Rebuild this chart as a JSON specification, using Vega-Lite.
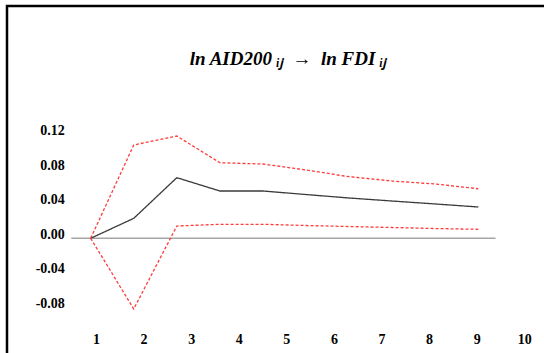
{
  "$schema": "https://vega.github.io/schema/vega-lite/v6.json",
  "width": 542,
  "height": 352,
  "autosize": "none",
  "padding": {"left": 7, "top": 6, "right": 0, "bottom": 0},
  "background": "white",
  "config": {
    "view": {"stroke": "black", "strokeWidth": 2.5},
    "font": "Liberation Serif"
  },
  "title": {
    "text": "ln AID200 ᵢⱼ\u2002→\u2002ln FDI ᵢⱼ",
    "font": "Liberation Serif",
    "fontStyle": "italic",
    "fontWeight": "bold",
    "fontSize": 19,
    "color": "black",
    "anchor": "middle",
    "frame": "group",
    "orient": "top",
    "baseline": "alphabetic",
    "offset": -78,
    "dx": 10
  },
  "datasets": {
    "irf": [
      {"period": 1, "series": "Response", "value": 0},
      {"period": 2, "series": "Response", "value": 0.0231},
      {"period": 3, "series": "Response", "value": 0.0701},
      {"period": 4, "series": "Response", "value": 0.0547},
      {"period": 5, "series": "Response", "value": 0.0547},
      {"period": 6, "series": "Response", "value": 0.0506},
      {"period": 7, "series": "Response", "value": 0.0466},
      {"period": 8, "series": "Response", "value": 0.0431},
      {"period": 9, "series": "Response", "value": 0.0397},
      {"period": 10, "series": "Response", "value": 0.0362},
      {"period": 1, "series": "Upper", "value": 0},
      {"period": 2, "series": "Upper", "value": 0.1079},
      {"period": 3, "series": "Upper", "value": 0.1183},
      {"period": 4, "series": "Upper", "value": 0.0874},
      {"period": 5, "series": "Upper", "value": 0.0859},
      {"period": 6, "series": "Upper", "value": 0.079},
      {"period": 7, "series": "Upper", "value": 0.0712},
      {"period": 8, "series": "Upper", "value": 0.0662},
      {"period": 9, "series": "Upper", "value": 0.0628},
      {"period": 10, "series": "Upper", "value": 0.0573},
      {"period": 1, "series": "Lower", "value": 0},
      {"period": 2, "series": "Lower", "value": -0.0817},
      {"period": 3, "series": "Lower", "value": 0.0142},
      {"period": 4, "series": "Lower", "value": 0.0162},
      {"period": 5, "series": "Lower", "value": 0.0162},
      {"period": 6, "series": "Lower", "value": 0.0148},
      {"period": 7, "series": "Lower", "value": 0.0136},
      {"period": 8, "series": "Lower", "value": 0.0125},
      {"period": 9, "series": "Lower", "value": 0.0113},
      {"period": 10, "series": "Lower", "value": 0.0104}
    ],
    "zero": [{"start": 0.55, "end": 10.4, "value": 0}]
  },
  "layer": [
    {
      "data": {"name": "zero"},
      "mark": {"type": "rule", "color": "#a6a6a6", "strokeWidth": 1.5},
      "encoding": {
        "x": {"field": "start", "type": "quantitative", "scale": {"domain": [-0.943, 11.641], "nice": false, "zero": false}, "axis": null},
        "x2": {"field": "end"},
        "y": {"field": "value", "type": "quantitative", "scale": {"domain": [-0.1384, 0.2686], "nice": false, "zero": false},
          "axis": {
            "values": [-0.08, -0.04, 0, 0.04, 0.08, 0.12],
            "labelExpr": "replace(format(datum.value, '.2f'), '−', '-')",
            "domain": false, "ticks": false, "grid": false,
            "offset": -57.3, "labelPadding": 0, "labelOffset": -4,
            "labelFont": "Liberation Serif", "labelFontWeight": "bold", "labelFontSize": 14, "labelColor": "black",
            "title": null
          }
        }
      }
    },
    {
      "data": {"name": "irf"},
      "mark": {"type": "line", "strokeWidth": 1.3},
      "encoding": {
        "x": {"field": "period", "type": "quantitative", "scale": {"domain": [-0.943, 11.641], "nice": false, "zero": false}, "axis": null},
        "y": {"field": "value", "type": "quantitative"},
        "color": {"field": "series", "type": "nominal", "scale": {"domain": ["Response", "Upper", "Lower"], "range": ["#3a3a3a", "#ff3b3b", "#ff3b3b"]}, "legend": null},
        "strokeDash": {"field": "series", "type": "nominal", "scale": {"domain": ["Response", "Upper", "Lower"], "range": [[1, 0], [3, 2], [3, 2]]}, "legend": null}
      }
    },
    {
      "data": {"name": "irf"},
      "mark": {"type": "point", "opacity": 0},
      "encoding": {
        "x": {"field": "period", "type": "quantitative", "scale": {"domain": [-0.8705, 10.521], "nice": false, "zero": false},
          "axis": {
            "values": [1, 2, 3, 4, 5, 6, 7, 8, 9, 10],
            "domain": false, "ticks": false, "grid": false,
            "offset": -19, "labelPadding": 0, "labelBaseline": "middle",
            "labelFont": "Liberation Serif", "labelFontWeight": "bold", "labelFontSize": 14, "labelColor": "black",
            "title": null
          }
        },
        "y": {"field": "value", "type": "quantitative"}
      }
    }
  ],
  "resolve": {"scale": {"x": "independent"}}
}
